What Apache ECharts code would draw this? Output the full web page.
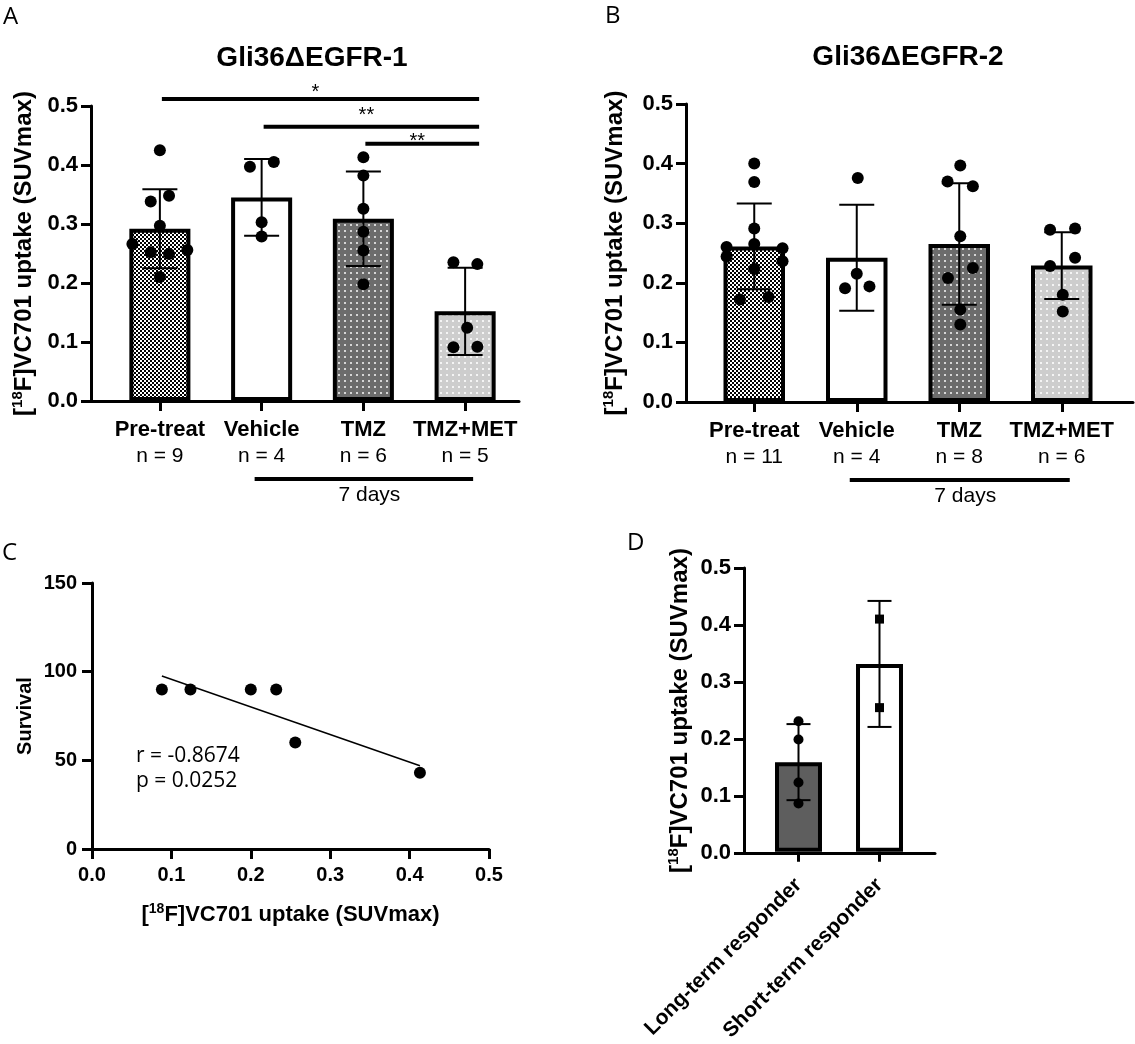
<!DOCTYPE html>
<html><head><meta charset="utf-8">
<script src="https://cdn.jsdelivr.net/npm/echarts@6/dist/echarts.min.js"></script>
<style>html,body{margin:0;padding:0;background:#fff}#c{width:1135px;height:1044px}</style>
</head><body><div id="c"></div>
<script>
// ---------------- data ----------------
const groupsAB = ['Pre-treat', 'Vehicle', 'TMZ', 'TMZ+MET'];
const nA = [9, 4, 6, 5];
const nB = [11, 4, 8, 6];
const meanA = [0.292, 0.345, 0.309, 0.152];
const sdA = [0.067, 0.065, 0.080, 0.074];
const meanB = [0.261, 0.242, 0.265, 0.229];
const sdB = [0.072, 0.089, 0.102, 0.056];

const ptsA_pre = [0.425, 0.338, 0.348, 0.297, 0.266, 0.252, 0.249, 0.256, 0.210];
const jitA_pre = [0, -0.09, 0.09, 0, -0.27, -0.09, 0.09, 0.27, 0];
const ptsA_veh = [0.397, 0.405, 0.303, 0.279];
const jitA_veh = [-0.115, 0.12, 0, 0];
const ptsA_tmz = [0.413, 0.382, 0.326, 0.287, 0.255, 0.198];
const jitA_tmz = [0, 0, 0, 0, 0, 0];
const ptsA_met = [0.235, 0.232, 0.124, 0.091, 0.092];
const jitA_met = [-0.115, 0.12, 0.02, -0.115, 0.12];

const ptsB_pre = [0.400, 0.369, 0.291, 0.260, 0.265, 0.258, 0.244, 0.236, 0.223, 0.172, 0.176];
const jitB_pre = [0, 0, 0, -0.27, 0, 0.276, -0.27, 0.276, 0, -0.14, 0.14];
const ptsB_veh = [0.376, 0.215, 0.191, 0.194];
const jitB_veh = [0.01, 0, -0.114, 0.124];
const ptsB_tmz = [0.397, 0.370, 0.362, 0.278, 0.225, 0.208, 0.155, 0.130];
const jitB_tmz = [0.01, -0.114, 0.133, 0.01, 0.133, -0.11, 0.01, 0.01];
const ptsB_met = [0.289, 0.291, 0.242, 0.228, 0.180, 0.152];
const jitB_met = [-0.114, 0.13, 0.13, -0.114, 0.01, 0.01];

const sigA = [
  { from: 0, to: 3, y: 0.512, labelY: 0.529, label: '*' },
  { from: 1, to: 3, y: 0.465, labelY: 0.491, label: '**' },
  { from: 2, to: 3, y: 0.436, labelY: 0.446, label: '**' }
];
const daysBracket = { from: 1, to: 3, label: '7 days' };

const xC = [0.088, 0.124, 0.200, 0.232, 0.256, 0.413];
const yC = [90, 90, 90, 90, 60, 43];
const statC = ['r = -0.8674', 'p = 0.0252'];

const groupsD = ['Long-term responder', 'Short-term responder'];
const meanD = [0.158, 0.331];
const sdD = [0.067, 0.111];
const ptsD_long = [0.230, 0.198, 0.122, 0.085];
const ptsD_short = [0.410, 0.254];

const yTicksSUV = { min: 0, max: 0.5, interval: 0.1 };
const yTicksSurv = { min: 0, max: 150, interval: 50 };
const xTicksC = { min: 0, max: 0.5, interval: 0.1 };

// ---------------- helpers ----------------
const F = 'Liberation Sans, Arial, Helvetica, sans-serif';
const OS = 'Open Sans, sans-serif';
const K = '#000';

function tile(size, bg, draw) {
  const c = document.createElement('canvas');
  c.width = size; c.height = size;
  const g = c.getContext('2d');
  g.fillStyle = bg; g.fillRect(0, 0, size, size);
  draw(g);
  return { image: c, repeat: 'repeat' };
}
const fillChecker = tile(4, '#000', g => { g.fillStyle = '#fff'; g.fillRect(0, 0, 2, 2); g.fillRect(2, 2, 2, 2); });
const fillDark = tile(6, '#6c6c6c', g => { g.fillStyle = '#d6d6d6'; g.fillRect(2, 2, 2, 2); });
const fillLight = tile(6, '#cdcdcd', g => { g.fillStyle = '#f4f4f4'; g.fillRect(2, 2, 2, 2); });
const fillsAB = [fillChecker, '#ffffff', fillDark, fillLight];
const fillsD = ['#5e5e5e', '#ffffff'];

function pts(groups, jits) {
  const out = [];
  groups.forEach((g, i) => g.forEach((v, k) => out.push([i + jits[i][k], v])));
  return out;
}

const suvName = '[{s|18}F]VC701 uptake (SUVmax)';
const nameStyle = (size, lh, sup) => ({
  color: K, fontFamily: F, fontWeight: 'bold', fontSize: size, lineHeight: lh,
  rich: { s: { color: K, fontFamily: F, fontWeight: 'bold', fontSize: sup, verticalAlign: 'top', lineHeight: lh } }
});

function yOuter(grid, t, name, gap, digits, labelSize, nStyle) {
  return {
    type: 'value', gridIndex: grid, min: t.min, max: t.max, interval: t.interval,
    axisLine: { show: true, onZero: false, lineStyle: { color: K, width: 3 } },
    axisTick: { show: true, length: 10, lineStyle: { color: K, width: 3 } },
    axisLabel: { color: K, fontFamily: F, fontWeight: 'bold', fontSize: labelSize, margin: 13,
      formatter: v => v.toFixed(digits) },
    splitLine: { show: false },
    name: name, nameLocation: 'middle', nameGap: gap, nameTextStyle: nStyle
  };
}
function yHidden(grid, t) {
  return { type: 'value', gridIndex: grid, min: t.min, max: t.max, show: false, splitLine: { show: false } };
}
function xLineOnly(grid) {
  return { type: 'value', gridIndex: grid, min: 0, max: 1,
    axisLine: { show: true, onZero: false, lineStyle: { color: K, width: 3 } },
    axisTick: { show: false }, axisLabel: { show: false }, splitLine: { show: false } };
}
function xCat(grid, cats, fmt, extraLabel) {
  return {
    type: 'category', gridIndex: grid, data: cats, position: 'bottom',
    axisLine: { show: false },
    axisTick: { show: true, alignWithLabel: true, length: 10, lineStyle: { color: K, width: 3 } },
    axisLabel: Object.assign({ color: K, fontFamily: F, fontSize: 21, interval: 0, formatter: fmt }, extraLabel)
  };
}
function xVal(grid, n) {
  return { type: 'value', gridIndex: grid, min: -0.5, max: n - 0.5, show: false, splitLine: { show: false } };
}

const errRender = (cap, lw) => (params, api) => {
  const x = api.value(0), m = api.value(1), s = api.value(2);
  const hi = api.coord([x, m + s]), lo = api.coord([x, m - s]);
  const st = { stroke: K, lineWidth: lw };
  return { type: 'group', children: [
    { type: 'line', shape: { x1: hi[0], y1: hi[1], x2: lo[0], y2: lo[1] }, style: st },
    { type: 'line', shape: { x1: hi[0] - cap, y1: hi[1], x2: hi[0] + cap, y2: hi[1] }, style: st },
    { type: 'line', shape: { x1: lo[0] - cap, y1: lo[1], x2: lo[0] + cap, y2: lo[1] }, style: st }
  ] };
};

const bracketRender = (label) => (params, api) => {
  const a = api.coord([api.value(0), 0]);
  const b = api.coord([api.value(1), 0]);
  const y = a[1] + 78;
  return { type: 'group', children: [
    { type: 'line', shape: { x1: a[0] - 7, y1: y, x2: b[0] + 8, y2: y }, style: { stroke: K, lineWidth: 4 } },
    { type: 'text', x: (a[0] + b[0]) / 2 + 6, y: y + 16,
      style: { text: label, fill: K, font: '21px ' + F, align: 'center', textAlign: 'center',
        verticalAlign: 'middle', textVerticalAlign: 'middle' } }
  ] };
};

const sigRender = (params, api) => {
  const a = api.coord([api.value(0), api.value(2)]);
  const b = api.coord([api.value(1), api.value(2)]);
  const ly = api.coord([api.value(0), api.value(3)])[1];
  return { type: 'group', children: [
    { type: 'line', shape: { x1: a[0] + 2, y1: a[1], x2: b[0] + 14, y2: b[1] }, style: { stroke: K, lineWidth: 4 } },
    { type: 'text', x: (a[0] + b[0]) / 2 + 3, y: ly + 4,
      style: { text: sigA[params.dataIndex].label, fill: K, font: '20px ' + F, align: 'center', textAlign: 'center',
        verticalAlign: 'middle', textVerticalAlign: 'middle' } }
  ] };
};

// regression (least squares) from the panel C data
const mx = xC.reduce((s, v) => s + v, 0) / xC.length;
const my = yC.reduce((s, v) => s + v, 0) / yC.length;
let sxy = 0, sxx = 0;
xC.forEach((v, i) => { sxy += (v - mx) * (yC[i] - my); sxx += (v - mx) * (v - mx); });
const slope = sxy / sxx, icpt = my - slope * mx;
const xMin = Math.min(...xC), xMax = Math.max(...xC);
const regLine = [[xMin, icpt + slope * xMin], [xMax, icpt + slope * xMax]];

const catFmt = ns => (v, i) => '{b|' + v + '}\n{n|n = ' + ns[i] + '}';
const catRich = {
  margin: 16,
  rich: {
    b: { color: K, fontFamily: F, fontWeight: 'bold', fontSize: 22, lineHeight: 26 },
    n: { color: K, fontFamily: F, fontSize: 21, lineHeight: 26 }
  }
};

const txt = (x, y, text, font, align) => ({
  type: 'text', x: x, y: y,
  style: { text: text, font: font, fill: K, align: align || 'left', textAlign: align || 'left',
    verticalAlign: 'middle', textVerticalAlign: 'middle' }
});

const bigName = nameStyle(24, 28, 15);
const option = {
  animation: false,
  backgroundColor: '#fff',
  grid: [
    { left: 91, top: 106, width: 428, height: 295 },   // 0 A outer
    { left: 109, top: 106, width: 407, height: 295 },  // 1 A inner
    { left: 686, top: 104, width: 447, height: 298 },  // 2 B outer
    { left: 703, top: 104, width: 410, height: 298 },  // 3 B inner
    { left: 92, top: 583, width: 397, height: 266 },   // 4 C
    { left: 744, top: 568, width: 191, height: 285 },  // 5 D outer
    { left: 758, top: 568, width: 162, height: 285 }   // 6 D inner
  ],
  xAxis: [
    xLineOnly(0),                                   // 0
    xCat(1, groupsAB, catFmt(nA), catRich),         // 1
    xVal(1, 4),                                     // 2
    xLineOnly(2),                                   // 3
    xCat(3, groupsAB, catFmt(nB), catRich),         // 4
    xVal(3, 4),                                     // 5
    {                                               // 6 C
      type: 'value', gridIndex: 4, min: xTicksC.min, max: xTicksC.max, interval: xTicksC.interval,
      axisLine: { show: true, onZero: false, lineStyle: { color: K, width: 3 } },
      axisTick: { show: true, length: 10, lineStyle: { color: K, width: 3 } },
      axisLabel: { color: K, fontFamily: F, fontWeight: 'bold', fontSize: 20, margin: 16, formatter: v => v.toFixed(1) },
      splitLine: { show: false },
      name: suvName, nameLocation: 'middle', nameGap: 53, nameTextStyle: nameStyle(22, 26, 14)
    },
    xLineOnly(5),                                   // 7
    xCat(6, groupsD, v => v, { fontWeight: 'bold', fontSize: 21, rotate: 45, margin: 30 }), // 8
    xVal(6, 2)                                      // 9
  ],
  yAxis: [
    yOuter(0, yTicksSUV, suvName, 53, 1, 22, bigName),  // 0
    yHidden(1, yTicksSUV),                               // 1
    yOuter(2, yTicksSUV, suvName, 57, 1, 22, bigName),  // 2
    yHidden(3, yTicksSUV),                               // 3
    Object.assign(yOuter(4, yTicksSurv, 'Survival', 55, 0, 20, nameStyle(20, 24, 13)),
      { axisLabel: { color: K, fontFamily: F, fontWeight: 'bold', fontSize: 20, margin: 15 } }), // 4
    yOuter(5, yTicksSUV, suvName, 50, 1, 22, bigName),  // 5
    yHidden(6, yTicksSUV)                                // 6
  ],
  graphic: [
    txt(3, 17, 'A', '24px ' + OS),
    txt(605, 16, 'B', '24px ' + OS),
    txt(2, 553, 'C', '24px ' + OS),
    txt(627, 543, 'D', '24px ' + OS),
    txt(312, 58, 'Gli36ΔEGFR-1', 'bold 28px ' + F, 'center'),
    txt(908, 57, 'Gli36ΔEGFR-2', 'bold 28px ' + F, 'center'),
    txt(136, 756, statC[0], '21px ' + OS),
    txt(136, 781, statC[1], '21px ' + OS)
  ],
  series: [
    // ---- A ----
    { type: 'bar', xAxisIndex: 1, yAxisIndex: 1, barWidth: '60%', z: 2,
      data: meanA.map((v, i) => ({ value: v, itemStyle: { color: fillsAB[i] } })),
      itemStyle: { borderColor: K, borderWidth: 4 } },
    { type: 'custom', xAxisIndex: 2, yAxisIndex: 1, z: 3, renderItem: errRender(17.5, 2),
      data: meanA.map((m, i) => [i, m, sdA[i]]) },
    { type: 'scatter', xAxisIndex: 2, yAxisIndex: 1, z: 4, symbolSize: 12, itemStyle: { color: K, opacity: 1 },
      data: pts([ptsA_pre, ptsA_veh, ptsA_tmz, ptsA_met], [jitA_pre, jitA_veh, jitA_tmz, jitA_met]) },
    { type: 'custom', xAxisIndex: 2, yAxisIndex: 1, z: 5, renderItem: sigRender,
      data: sigA.map(s => [s.from, s.to, s.y, s.labelY]) },
    { type: 'custom', xAxisIndex: 2, yAxisIndex: 1, z: 5, renderItem: bracketRender(daysBracket.label),
      data: [[daysBracket.from, daysBracket.to]] },
    // ---- B ----
    { type: 'bar', xAxisIndex: 4, yAxisIndex: 3, barWidth: '60%', z: 2,
      data: meanB.map((v, i) => ({ value: v, itemStyle: { color: fillsAB[i] } })),
      itemStyle: { borderColor: K, borderWidth: 4 } },
    { type: 'custom', xAxisIndex: 5, yAxisIndex: 3, z: 3, renderItem: errRender(17.5, 2),
      data: meanB.map((m, i) => [i, m, sdB[i]]) },
    { type: 'scatter', xAxisIndex: 5, yAxisIndex: 3, z: 4, symbolSize: 12, itemStyle: { color: K, opacity: 1 },
      data: pts([ptsB_pre, ptsB_veh, ptsB_tmz, ptsB_met], [jitB_pre, jitB_veh, jitB_tmz, jitB_met]) },
    { type: 'custom', xAxisIndex: 5, yAxisIndex: 3, z: 5, renderItem: bracketRender(daysBracket.label),
      data: [[daysBracket.from, daysBracket.to]] },
    // ---- C ----
    { type: 'line', xAxisIndex: 6, yAxisIndex: 4, showSymbol: false, symbol: 'none', z: 2,
      lineStyle: { color: K, width: 1.5 }, data: regLine },
    { type: 'scatter', xAxisIndex: 6, yAxisIndex: 4, z: 3, symbolSize: 12, itemStyle: { color: K, opacity: 1 },
      data: xC.map((v, i) => [v, yC[i]]) },
    // ---- D ----
    { type: 'bar', xAxisIndex: 8, yAxisIndex: 6, barWidth: '58%', z: 2,
      data: meanD.map((v, i) => ({ value: v, itemStyle: { color: fillsD[i] } })),
      itemStyle: { borderColor: K, borderWidth: 4 } },
    { type: 'custom', xAxisIndex: 9, yAxisIndex: 6, z: 3, renderItem: errRender(12, 2),
      data: meanD.map((m, i) => [i, m, sdD[i]]) },
    { type: 'scatter', xAxisIndex: 9, yAxisIndex: 6, z: 4, symbol: 'circle', symbolSize: 10, itemStyle: { color: K, opacity: 1 },
      data: ptsD_long.map(v => [0, v]) },
    { type: 'scatter', xAxisIndex: 9, yAxisIndex: 6, z: 4, symbol: 'rect', symbolSize: 9, itemStyle: { color: K, opacity: 1 },
      data: ptsD_short.map(v => [1, v]) }
  ]
};

const chart = echarts.init(document.getElementById('c'), null, { renderer: 'canvas' });
chart.setOption(option);
</script>
</body></html>
